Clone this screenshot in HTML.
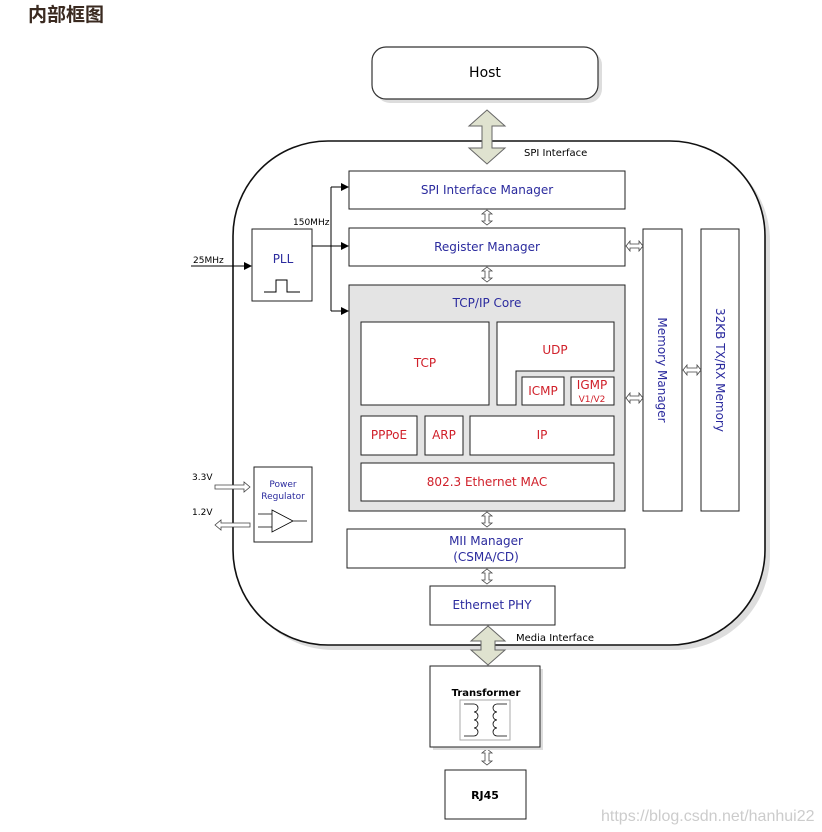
<!DOCTYPE html>
<html><head><meta charset="utf-8"><style>
body{margin:0;background:#fff;width:822px;height:832px;overflow:hidden}
svg{display:block}
text{font-family:"DejaVu Sans","Liberation Sans",sans-serif}
</style></head><body>
<svg width="822" height="832" viewBox="0 0 822 832" xmlns="http://www.w3.org/2000/svg">
<defs>
<marker id="ah" markerWidth="8" markerHeight="8" refX="7" refY="4" orient="auto" markerUnits="userSpaceOnUse"><path d="M0,0 L8,4 L0,8 z" fill="#000"/></marker>
</defs>
<text x="28" y="21" font-size="19" font-weight="bold" fill="#3a2a20" style="font-family:'Liberation Sans','Noto Sans CJK SC',sans-serif">内部框图</text>

<rect x="376" y="51" width="226" height="52" rx="14" fill="#ddd"/>
<rect x="372" y="47" width="226" height="52" rx="14" fill="#fff" stroke="#333" stroke-width="1.2"/>
<text x="485" y="77" font-size="14" text-anchor="middle">Host</text>

<rect x="238" y="146" width="532" height="504" rx="95" fill="#ddd"/>
<rect x="233" y="141" width="532" height="504" rx="95" fill="#fff" stroke="#111" stroke-width="1.6"/>

<path d="M487,110 L505,126 L492,126 L492,148 L505,148 L487,164 L469,148 L482,148 L482,126 L469,126 Z" fill="#dfe2cf" stroke="#666"/>
<text x="524" y="156" font-size="10">SPI Interface</text>

<g font-size="12" text-anchor="middle" fill="#2b2b9e">
<rect x="349" y="171" width="276" height="38" fill="#fff" stroke="#222"/>
<text x="487" y="194" fill="#2b2b9e">SPI Interface Manager</text>
<rect x="349" y="228" width="276" height="38" fill="#fff" stroke="#222"/>
<text x="487" y="251" fill="#2b2b9e">Register Manager</text>
<rect x="349" y="285" width="276" height="226" fill="#e4e4e4" stroke="#222"/>
<text x="487" y="307" fill="#2b2b9e">TCP/IP Core</text>
</g>

<g font-size="12" text-anchor="middle" fill="#d0202a" stroke="#222">
<rect x="361" y="322" width="128" height="83" fill="#fff"/>
<polygon points="497,322 614,322 614,371 516,371 516,405 497,405" fill="#fff"/>
<rect x="522" y="377" width="42" height="28" fill="#fff"/>
<rect x="571" y="377" width="43" height="28" fill="#fff"/>
<rect x="361" y="416" width="56" height="39" fill="#fff"/>
<rect x="425" y="416" width="38" height="39" fill="#fff"/>
<rect x="470" y="416" width="144" height="39" fill="#fff"/>
<rect x="361" y="463" width="253" height="38" fill="#fff"/>
</g>
<g font-size="12" text-anchor="middle" fill="#d0202a">
<text x="425" y="367">TCP</text>
<text x="555" y="354">UDP</text>
<text x="543" y="395">ICMP</text>
<text x="592" y="389">IGMP</text>
<text x="592" y="402" font-size="9">V1/V2</text>
<text x="389" y="439">PPPoE</text>
<text x="444" y="439">ARP</text>
<text x="542" y="439">IP</text>
<text x="487" y="486">802.3 Ethernet MAC</text>
</g>

<rect x="643" y="229" width="39" height="282" fill="#fff" stroke="#222"/>
<rect x="701" y="229" width="38" height="282" fill="#fff" stroke="#222"/>
<text transform="translate(658,370) rotate(90)" font-size="12" text-anchor="middle" fill="#2b2b9e">Memory Manager</text>
<text transform="translate(716,370) rotate(90)" font-size="12" text-anchor="middle" fill="#2b2b9e">32KB TX/RX Memory</text>

<g fill="#fff" stroke="#444" stroke-width="0.8">
<path d="M487,210 l5,4 l-3,0 l0,7 l3,0 l-5,4 l-5,-4 l3,0 l0,-7 l-3,0z"/>
<path d="M487,267 l5,4 l-3,0 l0,7 l3,0 l-5,4 l-5,-4 l3,0 l0,-7 l-3,0z"/>
<path d="M487,512 l5,4 l-3,0 l0,7 l3,0 l-5,4 l-5,-4 l3,0 l0,-7 l-3,0z"/>
<path d="M487,569 l5,4 l-3,0 l0,7 l3,0 l-5,4 l-5,-4 l3,0 l0,-7 l-3,0z"/>
<path d="M487,749 l5,4 l-3,0 l0,8 l3,0 l-5,4 l-5,-4 l3,0 l0,-8 l-3,0z"/>
<path d="M626,246 l4,-5 l0,3 l9,0 l0,-3 l4,5 l-4,5 l0,-3 l-9,0 l0,3z"/>
<path d="M626,398 l4,-5 l0,3 l9,0 l0,-3 l4,5 l-4,5 l0,-3 l-9,0 l0,3z"/>
<path d="M683,370 l4,-5 l0,3 l10,0 l0,-3 l4,5 l-4,5 l0,-3 l-10,0 l0,3z"/>
</g>

<rect x="252" y="229" width="60" height="72" fill="#fff" stroke="#222"/>
<text x="283" y="263" font-size="12" text-anchor="middle" fill="#2b2b9e">PLL</text>
<path d="M264,292 L276,292 L276,280 L287,280 L287,292 L300,292" fill="none" stroke="#000"/>
<line x1="191" y1="266" x2="251" y2="266" stroke="#000" marker-end="url(#ah)"/>
<text x="193" y="263" font-size="9">25MHz</text>
<line x1="312" y1="246" x2="348" y2="246" stroke="#000" marker-end="url(#ah)"/>
<line x1="331" y1="187" x2="331" y2="311" stroke="#000"/>
<line x1="331" y1="187" x2="348" y2="187" stroke="#000" marker-end="url(#ah)"/>
<line x1="331" y1="311" x2="348" y2="311" stroke="#000" marker-end="url(#ah)"/>
<text x="293" y="225" font-size="9">150MHz</text>

<rect x="254" y="467" width="58" height="75" fill="#fff" stroke="#222"/>
<text x="283" y="487" font-size="9" text-anchor="middle" fill="#2b2b9e">Power</text>
<text x="283" y="499" font-size="9" text-anchor="middle" fill="#2b2b9e">Regulator</text>
<path d="M272,510 L293,521 L272,532 Z M258,514 L272,514 M258,527 L272,527 M293,521 L307,521" fill="none" stroke="#000" stroke-width="0.8"/>
<text x="192" y="480" font-size="9">3.3V</text>
<text x="192" y="515" font-size="9">1.2V</text>
<path d="M215,485 L244,485 L244,482 L250,487 L244,492 L244,489 L215,489Z" fill="#fff" stroke="#444" stroke-width="0.8"/>
<path d="M250,523 L221,523 L221,520 L215,525 L221,530 L221,527 L250,527Z" fill="#fff" stroke="#444" stroke-width="0.8"/>

<rect x="347" y="529" width="278" height="39" fill="#fff" stroke="#222"/>
<text x="486" y="545" font-size="12" text-anchor="middle" fill="#2b2b9e">MII  Manager</text>
<text x="486" y="561" font-size="12" text-anchor="middle" fill="#2b2b9e">(CSMA/CD)</text>

<rect x="430" y="586" width="125" height="39" fill="#fff" stroke="#222"/>
<text x="492" y="609" font-size="12" text-anchor="middle" fill="#2b2b9e">Ethernet PHY</text>

<path d="M488,626 L505,641 L495,641 L495,650 L505,650 L488,665 L471,650 L481,650 L481,641 L471,641 Z" fill="#dfe2cf" stroke="#666"/>
<text x="516" y="641" font-size="10">Media Interface</text>

<rect x="433" y="669" width="110" height="81" fill="#ddd"/>
<rect x="430" y="666" width="110" height="81" fill="#fff" stroke="#222"/>
<text x="486" y="696" font-size="10" font-weight="bold" text-anchor="middle">Transformer</text>
<rect x="460" y="700" width="50" height="40" fill="#fff" stroke="#aaa"/>
<path d="M464,704 L474,704 a4,4 0 0 1 0,8 a4,4 0 0 1 0,8 a4,4 0 0 1 0,8 a4,4 0 0 1 0,8 L464,736 M507,704 L497,704 a4,4 0 0 0 0,8 a4,4 0 0 0 0,8 a4,4 0 0 0 0,8 a4,4 0 0 0 0,8 L507,736" fill="none" stroke="#000" stroke-width="0.8"/>

<rect x="445" y="770" width="81" height="49" fill="#fff" stroke="#222"/>
<text x="485" y="799" font-size="11" font-weight="bold" text-anchor="middle">RJ45</text>

<text x="601" y="821" font-size="16" fill="#ccc" style="font-family:'Liberation Sans',sans-serif">https://blog.csdn.net/hanhui22</text>
</svg>
</body></html>
